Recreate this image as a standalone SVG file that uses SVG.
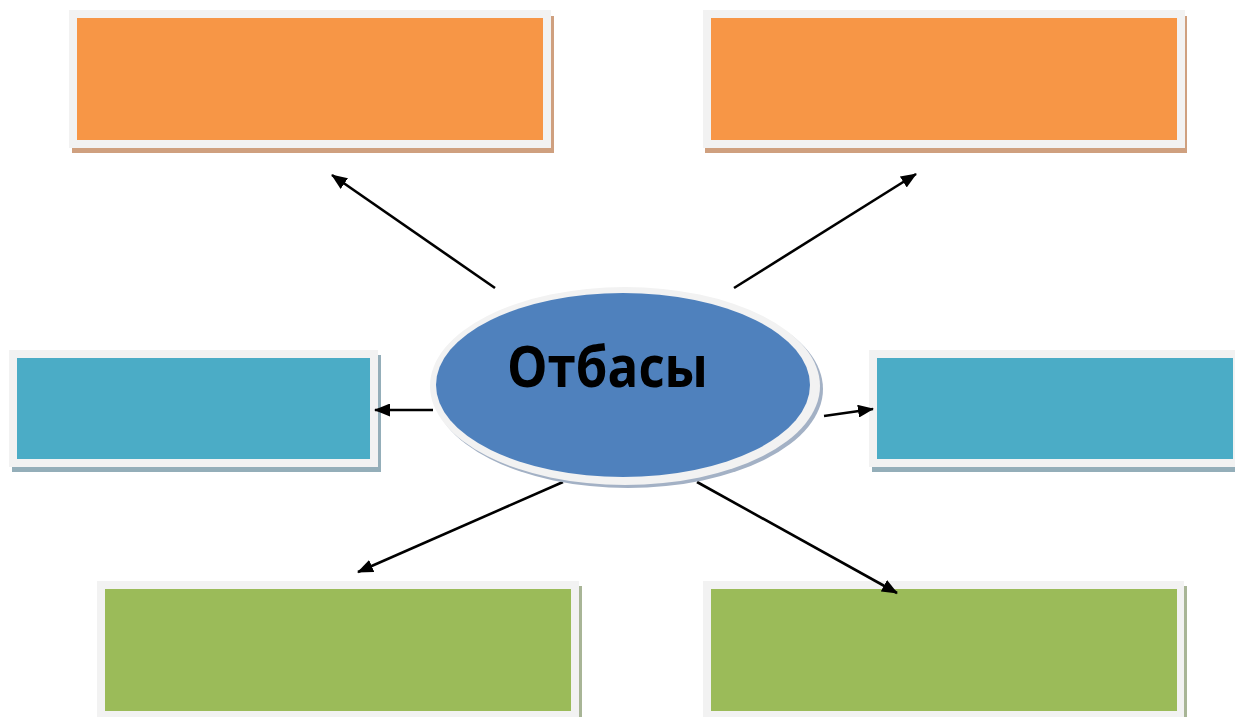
<svg xmlns="http://www.w3.org/2000/svg" width="1235" height="717" viewBox="0 0 1235 717">
<style>
.frame{fill:#F2F2F2}
.sh-or{fill:#CFA07F}
.sh-te{fill:#94AEB9}
.sh-gr{fill:#A8B596}
.or{fill:#F79646}
.te{fill:#4BACC6}
.gr{fill:#9BBB59}
.conn line{stroke:#000;stroke-width:2.6;fill:none}
.label{font-family:"Open Sans","Liberation Sans",sans-serif;font-weight:bold;font-size:58px;fill:#000}
</style>
<defs>
<marker id="ah" viewBox="0 0 16 13" refX="15" refY="6.5" markerWidth="16" markerHeight="13" markerUnits="userSpaceOnUse" orient="auto">
<path d="M0,0 L16,6.5 L0,13 z" fill="#000"/>
</marker>
</defs>
<rect width="1235" height="717" fill="#fff"/>

<g id="box-top-left">
<rect class="sh-or" x="72" y="16" width="482" height="137"/>
<rect class="frame" x="69" y="10" width="482" height="138"/>
<rect class="or" x="77" y="18" width="466" height="122"/>
</g>
<g id="box-top-right">
<rect class="sh-or" x="705" y="16" width="482" height="137"/>
<rect class="frame" x="703" y="10" width="482" height="138"/>
<rect class="or" x="711" y="18" width="466" height="122"/>
</g>
<g id="box-mid-left">
<rect class="sh-te" x="12" y="355" width="369" height="117"/>
<rect class="frame" x="9" y="350" width="369" height="117"/>
<rect class="te" x="17" y="358" width="353" height="101"/>
</g>
<g id="box-mid-right">
<rect class="sh-te" x="872" y="355" width="372" height="117"/>
<rect class="frame" x="869" y="350" width="372" height="117"/>
<rect class="te" x="877" y="358" width="356" height="101"/>
</g>
<g id="box-bottom-left">
<rect class="sh-gr" x="100" y="586" width="482" height="140"/>
<rect class="frame" x="97" y="581" width="482" height="140"/>
<rect class="gr" x="105" y="589" width="466" height="122"/>
</g>
<g id="box-bottom-right">
<rect class="sh-gr" x="706" y="586" width="481" height="140"/>
<rect class="frame" x="703" y="581" width="481" height="140"/>
<rect class="gr" x="711" y="589" width="466" height="122"/>
</g>

<g id="connectors" class="conn">
<line x1="495" y1="288" x2="332" y2="175" marker-end="url(#ah)"/>
<line x1="734" y1="288" x2="916" y2="174" marker-end="url(#ah)"/>
<line x1="433" y1="410" x2="375" y2="410" marker-end="url(#ah)"/>
<line x1="824" y1="416" x2="873" y2="409" marker-end="url(#ah)"/>
<line x1="563" y1="482" x2="358" y2="572" marker-end="url(#ah)"/>
<line x1="697" y1="482" x2="897" y2="593" marker-end="url(#ah)"/>
</g>

<g id="center">
<ellipse cx="628" cy="389" rx="195" ry="99" fill="#A3B1C5"/>
<ellipse cx="625" cy="386" rx="195" ry="99" fill="#F2F2F2"/>
<ellipse cx="623" cy="385" rx="187" ry="92" fill="#4F81BD"/>
<text class="label" x="507" y="387" textLength="201" lengthAdjust="spacingAndGlyphs">Отбасы</text>
</g>
</svg>
